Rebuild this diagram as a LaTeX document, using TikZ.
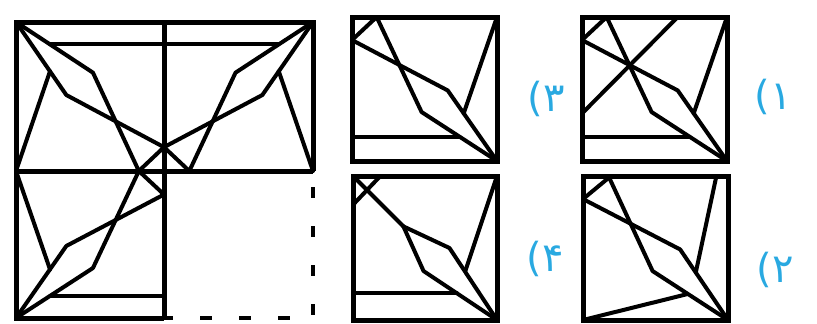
\documentclass[tikz,border=0pt]{standalone}
\usepackage{fontspec}
\newfontfamily\digfont{DejaVu Sans}
\definecolor{lbl}{HTML}{29A9E1}
\tikzset{
  ln/.style={line width=4pt, line join=round, line cap=round},
  bx/.style={line width=5pt, line join=miter},
  lab/.style={text=lbl, font=\digfont\fontsize{40}{46}\selectfont, inner sep=0pt},
  dsh/.style={line width=4.5pt}
}
% base pattern (option 3 type); #1 = v of the horizontal line, #2 = its u end
\newcommand{\basepat}[2]{%
  \draw[ln] (0,0.16) -- (0.17,0);
  \draw[ln] (0,0.16) -- (0.66,0.51) -- (1,1);
  \draw[ln] (0.17,0) -- (0.48,0.66) -- (1,1);
  \draw[ln] (1,0) -- (0.77,0.67);
  \draw[ln] (0,#1) -- (#2,#1);
}
\begin{document}
\begin{tikzpicture}[x=1pt,y=-1pt]
\useasboundingbox (0,0) rectangle (817,324);

% ---------- big figure ----------
\begin{scope}[shift={(164,171)}, xscale=-148, yscale=-149]
  \basepat{0.85}{0.77}
\end{scope}
\begin{scope}[shift={(164,171)}, xscale=149, yscale=-149]
  \basepat{0.85}{0.77}
\end{scope}
\begin{scope}[shift={(164,171)}, xscale=-148, yscale=147]
  \basepat{0.85}{0.77}
\end{scope}
\draw[bx] (313,171) -- (313,22) -- (16,22) -- (16,318) -- (164,318);
\draw[bx] (164,22) -- (164,318);
\draw[bx] (16,171) -- (313,171);
\draw[dsh, dash pattern=on 11pt off 28pt] (313,187) -- (313,318);
\draw[dsh, dash pattern=on 12pt off 27pt] (161,318) -- (313,318);

% ---------- option 3 ----------
\begin{scope}[shift={(352,17)}, xscale=145, yscale=144]
  \basepat{0.83}{0.74}
  \draw[bx] (0,0) rectangle (1,1);
\end{scope}

% ---------- option 1 ----------
\begin{scope}[shift={(582,17)}, xscale=145, yscale=144]
  \basepat{0.83}{0.74}
  \draw[ln] (0,0.67) -- (0.66,0);
  \draw[bx] (0,0) rectangle (1,1);
\end{scope}

% ---------- option 4 ----------
\begin{scope}[shift={(353,176)}, xscale=144, yscale=144]
  \draw[ln] (0,0.2) -- (0.19,0);
  \draw[ln] (0,0) -- (0.35,0.35);
  \draw[ln] (0.35,0.35) -- (0.67,0.5) -- (1,1);
  \draw[ln] (0.35,0.35) -- (0.49,0.66) -- (1,1);
  \draw[ln] (1,0) -- (0.78,0.66);
  \draw[ln] (0,0.81) -- (0.72,0.81);
  \draw[bx] (0,0) rectangle (1,1);
\end{scope}

% ---------- option 2 ----------
\begin{scope}[shift={(583,176)}, xscale=145, yscale=144]
  \draw[ln] (0,0.16) -- (0.18,0.01);
  \draw[ln] (0,0.16) -- (0.67,0.51) -- (1,1);
  \draw[ln] (0.18,0.01) -- (0.48,0.66) -- (1,1);
  \draw[ln] (0.92,0) -- (0.78,0.66);
  \draw[ln] (0,1) -- (0.72,0.82);
  \draw[bx] (0,0) rectangle (1,1);
\end{scope}

% ---------- labels ----------
\node[lab] (l3) at (546,99) {(۳};
\node[lab] (l1) at (773,97) {(۱};
\node[lab] (l4) at (545,259) {(۴};
\node[lab] (l2) at (775,270) {(۲};
\end{tikzpicture}
\end{document}
